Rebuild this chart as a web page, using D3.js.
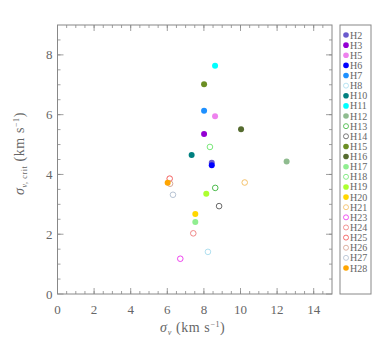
<!DOCTYPE html>
<html>
<head>
<meta charset="utf-8">
<script src="https://cdn.jsdelivr.net/npm/d3@7"></script>
<style>
  body { margin: 0; background: #fff; }
  svg text { font-family: "Liberation Serif", serif; fill: #666; }
</style>
</head>
<body>
<div class="chart"></div>
<script>
// core names, in legend order
var names = ["H2","H3","H5","H6","H7","H8","H10","H11","H12","H13","H14","H15","H16","H17","H18","H19","H20","H21","H23","H24","H25","H26","H27","H28"];
var sigmaV = [8.43, 8.01, 8.61, 8.43, 8.01, 8.22, 7.33, 8.61, 12.52, 8.62, 8.83, 8.01, 10.03, 7.53, 8.33, 8.13, 7.53, 10.23, 6.71, 7.42, 6.13, 6.15, 6.31, 6.02];
var sigmaCrit = [4.39, 5.35, 5.95, 4.31, 6.13, 1.41, 4.65, 7.64, 4.43, 3.55, 2.94, 7.02, 5.51, 2.41, 4.92, 3.35, 2.68, 3.73, 1.18, 2.03, 3.86, 3.69, 3.32, 3.72];
var colors = ["#6a5acd","#9400d3","#ee82ee","#0000ff","#1e90ff","#b0e0f0","#008080","#00ffff","#8fbc8f","#4cbb4c","#696969","#6b8e23","#556b2f","#90ee90","#7ae87a","#adff2f","#ffd700","#f5c26b","#ee44ee","#f08888","#f46060","#d8a898","#b8c4d4","#ffa500"];
var filled = [1,1,1,1,1,0,1,1,1,0,0,1,1,1,0,1,1,0,0,0,0,0,0,1];

var xTicks = [0, 2, 4, 6, 8, 10, 12, 14];
var yTicks = [0, 2, 4, 6, 8];

var svgWidth = 374, svgHeight = 348;
var margin = {top: 25, right: 42, bottom: 54, left: 57.5};
var width = svgWidth - margin.left - margin.right;
var height = svgHeight - margin.top - margin.bottom;

var svg = d3.select(".chart").append("svg")
  .attr("width", svgWidth)
  .attr("height", svgHeight);

var g = svg.append("g")
  .attr("transform", `translate(${margin.left}, ${margin.top})`);

var x = d3.scaleLinear().domain([0, 15]).range([0, width]);
var y = d3.scaleLinear().domain([0, 9]).range([height, 0]);

var axisColor = "#888";
var serif = "'Liberation Serif', 'DejaVu Serif', serif";

// frame
g.append("rect")
  .attr("width", width).attr("height", height)
  .attr("fill", "none").attr("stroke", axisColor).attr("stroke-width", 1);

// ticks on all four sides, pointing inward
function tickSet(vals, len) {
  var t = g.append("g").attr("stroke", axisColor).attr("stroke-width", 0.8);
  vals.x.forEach(function(v) {
    t.append("line").attr("x1", x(v)).attr("x2", x(v)).attr("y1", height).attr("y2", height - len);
    t.append("line").attr("x1", x(v)).attr("x2", x(v)).attr("y1", 0).attr("y2", len);
  });
  vals.y.forEach(function(v) {
    t.append("line").attr("y1", y(v)).attr("y2", y(v)).attr("x1", 0).attr("x2", len);
    t.append("line").attr("y1", y(v)).attr("y2", y(v)).attr("x1", width).attr("x2", width - len);
  });
}
tickSet({x: d3.range(0.5, 15, 0.5), y: d3.range(0.5, 9, 0.5)}, 3);
tickSet({x: xTicks, y: yTicks}, 6);

// tick labels
g.selectAll(".xl").data(xTicks).enter().append("text")
  .attr("x", d => x(d)).attr("y", height + 20)
  .attr("text-anchor", "middle").style("font-size", "13px").style("font-family", serif)
  .text(d => d);
g.selectAll(".yl").data(yTicks).enter().append("text")
  .attr("x", -5).attr("y", d => y(d) + 4.5)
  .attr("text-anchor", "end").style("font-size", "13px").style("font-family", serif)
  .text(d => d);

// axis titles
var xt = g.append("text")
  .attr("x", width / 2 - 2).attr("y", height + 38)
  .attr("text-anchor", "middle").style("font-size", "14px").style("font-family", serif)
  .style("letter-spacing", "0.6px");
xt.append("tspan").style("font-style", "italic").text("σ");
xt.append("tspan").attr("dy", 3).style("font-size", "8px").style("font-style", "italic").text("v");
xt.append("tspan").attr("dy", -3).text("  (km  s");
xt.append("tspan").attr("dy", -5).style("font-size", "8px").text("−1");
xt.append("tspan").attr("dy", 5).text(")");

var yt = g.append("text")
  .attr("transform", `translate(-34, ${height / 2 - 6}) rotate(-90)`)
  .attr("text-anchor", "middle").style("font-size", "14px").style("font-family", serif)
  .style("letter-spacing", "0.6px");
yt.append("tspan").style("font-style", "italic").text("σ");
yt.append("tspan").attr("dy", 3).style("font-size", "8px").style("font-style", "italic").text("v, ");
yt.append("tspan").style("font-size", "8px").text("crit");
yt.append("tspan").attr("dy", -3).text("  (km  s");
yt.append("tspan").attr("dy", -5).style("font-size", "8px").text("−1");
yt.append("tspan").attr("dy", 5).text(")");

// points
var pts = names.map(function(n, i) {
  return {name: n, sx: sigmaV[i], sy: sigmaCrit[i], color: colors[i], filled: filled[i]};
});
g.selectAll("circle.pt").data(pts).enter().append("circle")
  .attr("class", "pt")
  .attr("cx", d => x(d.sx)).attr("cy", d => y(d.sy))
  .attr("r", d => d.filled ? 3 : 2.8)
  .attr("fill", d => d.filled ? d.color : "none")
  .attr("stroke", d => d.color)
  .attr("stroke-width", d => d.filled ? 0 : 1);

// legend
var lg = svg.append("g").attr("transform", "translate(340, 25)");
lg.append("rect").attr("width", 31).attr("height", 269)
  .attr("fill", "none").attr("stroke", axisColor).attr("stroke-width", 1);
var ly = d3.scalePoint().domain(names).range([10, 243]);
var items = lg.selectAll(".li").data(pts).enter().append("g")
  .attr("transform", d => `translate(0, ${ly(d.name)})`);
items.append("circle")
  .attr("cx", 6).attr("cy", 0).attr("r", d => d.filled ? 2.8 : 2.5)
  .attr("fill", d => d.filled ? d.color : "none")
  .attr("stroke", d => d.color)
  .attr("stroke-width", d => d.filled ? 0 : 0.9);
items.append("text")
  .attr("x", 10).attr("y", 3.5)
  .style("font-size", "10px").style("font-family", serif)
  .text(d => d.name);
</script>
</body>
</html>
